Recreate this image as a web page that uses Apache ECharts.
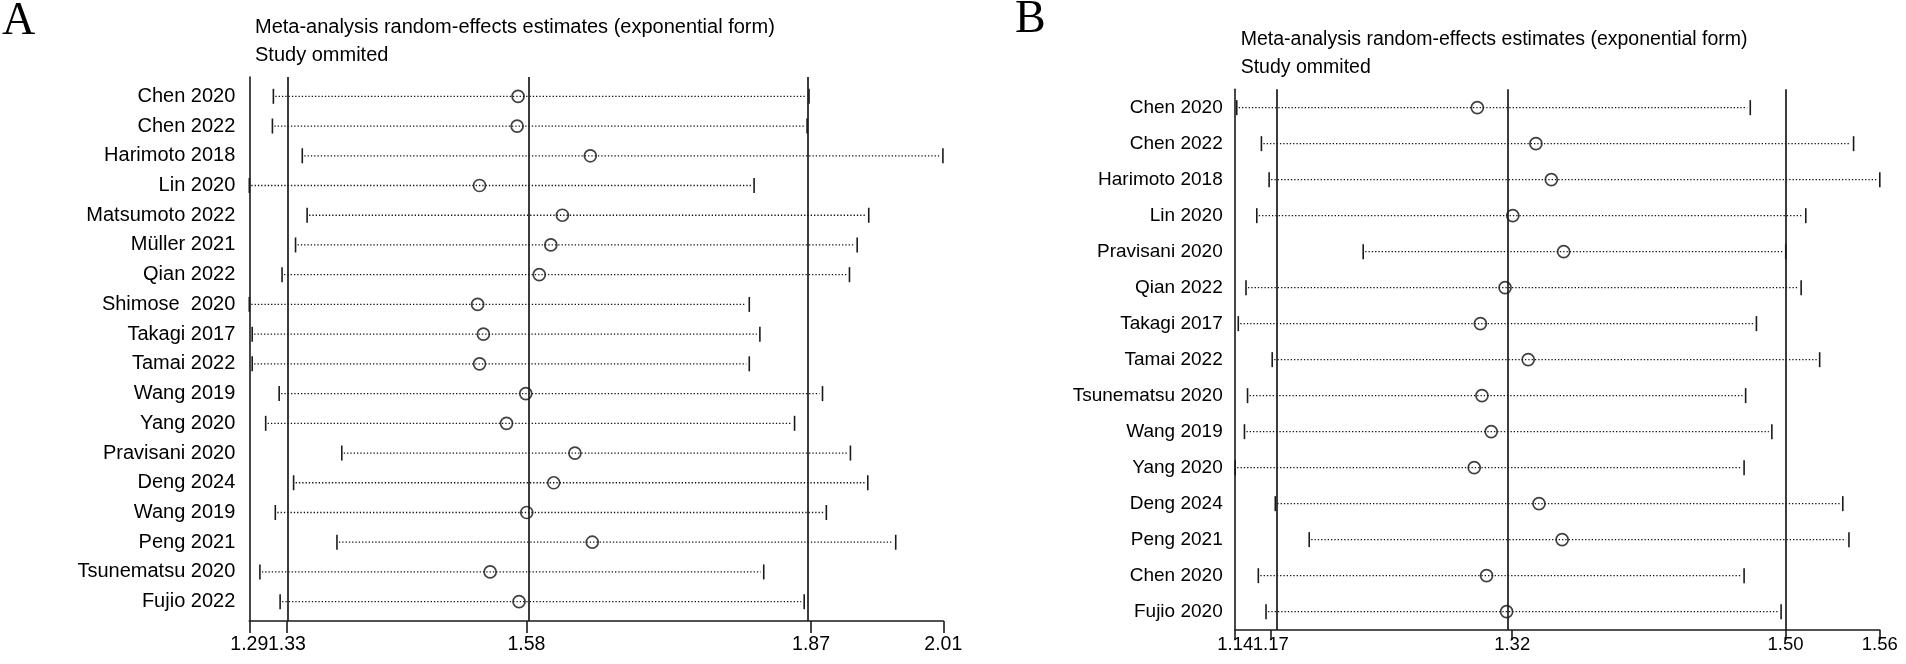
<!DOCTYPE html>
<html>
<head>
<meta charset="utf-8">
<script src="https://cdn.jsdelivr.net/npm/echarts@6/dist/echarts.min.js"></script>
<style>
html,body{margin:0;padding:0;background:#fff;}
#chart{width:1906px;height:664px;}
</style>
</head>
<body>
<div id="chart"></div>
<script>
// ---------- Panel A data ----------
var studiesA = ['Chen 2020','Chen 2022','Harimoto 2018','Lin 2020','Matsumoto 2022','Müller 2021','Qian 2022','Shimose  2020','Takagi 2017','Tamai 2022','Wang 2019','Yang 2020','Pravisani 2020','Deng 2024','Wang 2019','Peng 2021','Tsunematsu 2020','Fujio 2022'];
var estA = [1.569,1.568,1.644,1.529,1.615,1.603,1.591,1.527,1.533,1.529,1.577,1.557,1.628,1.606,1.578,1.646,1.540,1.570];
var loA  = [1.315,1.314,1.345,1.290,1.350,1.338,1.324,1.290,1.293,1.293,1.321,1.307,1.386,1.336,1.317,1.381,1.301,1.322];
var hiA  = [1.871,1.869,2.010,1.814,1.933,1.921,1.913,1.809,1.820,1.809,1.885,1.856,1.914,1.932,1.889,1.961,1.824,1.866];
var overallA = [1.3291, 1.5776, 1.8731];          // lower CI, estimate, upper CI
var tickValuesA = [1.290, 1.3291, 1.5776, 1.8731, 2.0104];
var tickLabelsA = ['1.29','1.33','1.58','1.87','2.01'];

// ---------- Panel B data ----------
var studiesB = ['Chen 2020','Chen 2022','Harimoto 2018','Lin 2020','Pravisani 2020','Qian 2022','Takagi 2017','Tamai 2022','Tsunematsu 2020','Wang 2019','Yang 2020','Deng 2024','Peng 2021','Chen 2020','Fujio 2020'];
var estB = [1.300,1.338,1.348,1.323,1.356,1.318,1.302,1.333,1.303,1.309,1.298,1.340,1.355,1.306,1.319];
var loB  = [1.144,1.160,1.165,1.157,1.226,1.150,1.145,1.167,1.151,1.149,1.143,1.169,1.191,1.158,1.163];
var hiB  = [1.477,1.544,1.561,1.513,1.500,1.510,1.481,1.522,1.474,1.491,1.473,1.537,1.541,1.473,1.497];
var overallB = [1.1661, 1.3226, 1.4999];
var tickValuesB = [1.143, 1.1661, 1.3226, 1.4999, 1.561];
var tickLabelsB = ['1.14','1.17','1.32','1.50','1.56'];

var SANS = 'Liberation Sans, Arial, Helvetica, sans-serif';
var INK = '#1a1a1a';

function rows(n){ var r=[]; for(var i=1;i<=n;i++) r.push(i); return r; }
function nearestLabel(vals, labels, v){
  var best=0, d=Infinity;
  for (var i=0;i<vals.length;i++){ var dd=Math.abs(vals[i]-v); if(dd<d){d=dd;best=i;} }
  return labels[best];
}

function ciRender(params, api){
  var y = api.value(0), lo = api.value(1), hi = api.value(2);
  var p1 = api.coord([lo, y]), p2 = api.coord([hi, y]);
  var h = 7.5;
  return {
    type:'group',
    children:[
      {type:'line', shape:{x1:p1[0]+2, y1:p1[1], x2:p2[0]-3, y2:p2[1]},
       style:{stroke:'#111', lineWidth:1.3, lineDash:[1.3,2]}},
      {type:'line', shape:{x1:p1[0], y1:p1[1]-h, x2:p1[0], y2:p1[1]+h},
       style:{stroke:INK, lineWidth:1.6}},
      {type:'line', shape:{x1:p2[0], y1:p2[1]-h, x2:p2[0], y2:p2[1]+h},
       style:{stroke:INK, lineWidth:1.6}}
    ]
  };
}

function labelAxis(idx, tickVals, tickLabels, labelVals, labelMargin, showLine, tickLen, fontSize){
  return {
    gridIndex: idx, type:'value', position:'bottom',
    min: tickVals[0], max: tickVals[tickVals.length-1],
    axisLine:{show:showLine, onZero:false, lineStyle:{color:INK, width:1.6}},
    axisTick:{show:showLine, customValues: tickVals, length: tickLen, lineStyle:{color:INK, width:1.6}},
    axisLabel:{show:true, customValues: labelVals, showMinLabel:true, showMaxLabel:true, hideOverlap:false,
      margin: labelMargin, color:'#000', fontSize:fontSize, fontFamily:SANS,
      formatter:function(v){ return nearestLabel(tickVals, tickLabels, v); }},
    splitLine:{show:false}
  };
}

function buildPanel(idx, studies, est, lo, hi, overall, tickVals, tickLabels, tickLen, labelMargin, yLabelMargin, labelSize, tickFont){
  var n = studies.length;
  var ciData = [], estData = [];
  for (var i=0;i<n;i++){ ciData.push([i+1, lo[i], hi[i]]); estData.push([est[i], i+1]); }
  // main axis: every label except the lower overall CI (drawn by a twin axis so it is not hidden by overlap)
  var mainLabels = tickVals.filter(function(v, k){ return k !== 1; });
  var xAxes = [
    labelAxis(idx, tickVals, tickLabels, mainLabels, labelMargin, true, tickLen, tickFont),
    labelAxis(idx, tickVals, tickLabels, [tickVals[1]], labelMargin, false, tickLen, tickFont)
  ];
  var yAxis = {
    gridIndex: idx, type:'value', inverse:true,
    min: idx===0 ? 0.35 : 0.49, max: idx===0 ? n+0.65 : n+0.51,
    axisLine:{show:true, onZero:false, lineStyle:{color:INK, width:1.6}},
    axisTick:{show:false},
    axisLabel:{show:true, customValues: rows(n), showMinLabel:true, showMaxLabel:true, hideOverlap:false,
      margin: yLabelMargin, color:'#000', fontSize:labelSize, fontFamily:SANS,
      formatter:function(v){ return studies[Math.round(v)-1]; }},
    splitLine:{show:false}
  };
  var xi = idx*2;
  var series = [
    {type:'custom', xAxisIndex:xi, yAxisIndex:idx, renderItem:ciRender, data:ciData,
     encode:{x:[1,2], y:0}, silent:true,
     markLine:{silent:true, symbol:'none', label:{show:false},
       lineStyle:{type:'solid', color:INK, width:1.7},
       data: overall.map(function(v){ return {xAxis:v}; })}},
    {type:'scatter', xAxisIndex:xi, yAxisIndex:idx, data:estData, symbol:'circle', symbolSize:12,
     itemStyle:{color:'rgba(0,0,0,0)', borderColor:'#111', borderWidth:1.7}, silent:true}
  ];
  return {xAxes:xAxes, yAxis:yAxis, series:series};
}

var pA = buildPanel(0, studiesA, estA, loA, hiA, overallA, tickValuesA, tickLabelsA, 12, 13.5, 14, 20, 19.5);
var pB = buildPanel(1, studiesB, estB, loB, hiB, overallB, tickValuesB, tickLabelsB, 10, 5, 12.5, 19, 18.5);

function txt(x, y, s, size, family){
  return {type:'text', x:x, y:y, silent:true,
    style:{text:s, fontSize:size, fontFamily:family, fill:'#000', align:'left', verticalAlign:'middle'}};
}

var option = {
  animation:false,
  backgroundColor:'#fff',
  grid:[
    {left:249.3, top:77, width:694, height:544},
    {left:1235.2, top:89.3, width:644.6, height:540.7}
  ],
  xAxis: pA.xAxes.concat(pB.xAxes),
  yAxis:[pA.yAxis, pB.yAxis],
  series: pA.series.concat(pB.series),
  graphic:[
    txt(2, 22, 'A', 46, 'Liberation Serif, Times New Roman, serif'),
    txt(1015, 20, 'B', 46, 'Liberation Serif, Times New Roman, serif'),
    txt(255, 27.5, 'Meta-analysis random-effects estimates (exponential form)', 20, SANS),
    txt(255, 55.5, 'Study ommited', 20, SANS),
    txt(1240.7, 40, 'Meta-analysis random-effects estimates (exponential form)', 19.5, SANS),
    txt(1240.7, 68, 'Study ommited', 19.5, SANS)
  ]
};

var chart = echarts.init(document.getElementById('chart'), null, {renderer:'canvas'});
chart.setOption(option);
</script>
</body>
</html>
